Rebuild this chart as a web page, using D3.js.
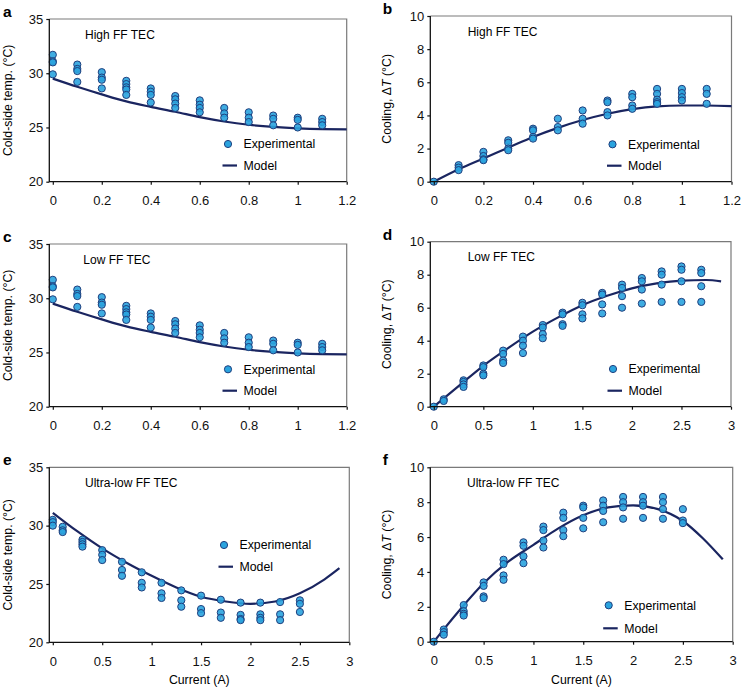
<!DOCTYPE html>
<html>
<head>
<meta charset="utf-8">
<script src="https://cdn.jsdelivr.net/npm/d3@7"></script>
<style>
  body { margin: 0; background: #fff; }
  svg { display: block; font-family: "Liberation Sans", Arial, sans-serif; }
</style>
</head>
<body>
<div id="chart"></div>
<script>
// ---- data ----
const highCurrent = [0, 0.1, 0.2, 0.3, 0.4, 0.5, 0.6, 0.7, 0.8, 0.9, 1.0, 1.1];
const highColdExp = [
  [31.7, 31.1, 31.0, 29.9], [30.8, 30.4, 30.2, 29.2], [30.1, 29.6, 29.4, 28.6],
  [29.3, 29.0, 28.7, 28.5, 28.0], [28.6, 28.3, 28.0, 27.3], [27.9, 27.6, 27.2, 26.8],
  [27.5, 27.1, 26.8, 26.4], [26.8, 26.3, 25.9], [26.4, 25.9, 25.5],
  [26.1, 25.8, 25.2], [25.9, 25.7, 25.0], [25.8, 25.5, 25.2]
];
const highModelI = [0, 0.1, 0.2, 0.3, 0.4, 0.5, 0.6, 0.7, 0.8, 0.9, 1.0, 1.1, 1.2];
const highColdModel = [29.5, 28.75, 28.05, 27.4, 26.9, 26.45, 25.95, 25.55, 25.25, 25.05, 24.92, 24.85, 24.83];

const highCoolExp = [
  [0], [1.0, 0.85, 0.7], [1.8, 1.55, 1.35, 1.3], [2.5, 2.35, 2.0, 1.9],
  [3.2, 3.1, 2.7, 2.6], [3.8, 3.3, 3.1], [4.3, 3.8, 3.5], [4.9, 4.8, 4.2, 4.0],
  [5.3, 5.1, 4.6, 4.4], [5.6, 5.3, 4.95, 4.8, 4.7], [5.6, 5.35, 5.1, 4.9], [5.6, 5.3, 4.7]
];
const highCoolModel = [0, 0.75, 1.4, 2.05, 2.7, 3.25, 3.72, 4.1, 4.38, 4.55, 4.6, 4.6, 4.56];

const lowColdCurrent = [0, 0.1, 0.2, 0.3, 0.4, 0.5, 0.6, 0.7, 0.8, 0.9, 1.0, 1.1];
const lowColdExp = [
  [31.7, 31.1, 31.0, 29.9], [30.8, 30.4, 30.2, 29.2], [30.1, 29.6, 29.4, 28.6],
  [29.3, 29.0, 28.7, 28.5, 28.0], [28.6, 28.3, 28.0, 27.3], [27.9, 27.6, 27.2, 26.8],
  [27.5, 27.1, 26.8, 26.4], [26.8, 26.3, 25.9], [26.4, 25.9, 25.5],
  [26.1, 25.8, 25.2], [25.9, 25.7, 25.0], [25.8, 25.5, 25.2]
];
const lowColdModelI = [0, 0.1, 0.2, 0.3, 0.4, 0.5, 0.6, 0.7, 0.8, 0.9, 1.0, 1.1, 1.2];
const lowColdModel = [29.5, 28.75, 28.05, 27.4, 26.9, 26.45, 25.95, 25.55, 25.25, 25.05, 24.92, 24.85, 24.83];

const wideCurrent = [0, 0.1, 0.3, 0.5, 0.7, 0.9, 1.1, 1.3, 1.5, 1.7, 1.9, 2.1, 2.3, 2.5, 2.7];
const lowCoolExp = [
  [0], [0.45, 0.35], [1.6, 1.5, 1.35, 1.2], [2.5, 2.4, 2.0, 1.9],
  [3.4, 3.2, 2.8, 2.65], [4.25, 4.0, 3.7, 3.25], [4.95, 4.8, 4.4, 4.15],
  [5.7, 5.6, 5.0, 4.9], [6.3, 6.15, 5.6, 5.35], [6.9, 6.8, 6.2, 5.65],
  [7.4, 7.2, 6.7, 6.0], [7.8, 7.6, 7.1, 6.25], [8.2, 8.0, 7.4, 6.35],
  [8.5, 8.3, 7.6, 6.35], [8.3, 8.1, 7.3, 6.35]
];
const wideModelI = [0, 0.25, 0.5, 0.75, 1.0, 1.25, 1.5, 1.75, 2.0, 2.25, 2.5, 2.75, 2.9];
const lowCoolModel = [0, 1.25, 2.48, 3.55, 4.55, 5.4, 6.15, 6.72, 7.17, 7.47, 7.64, 7.68, 7.6];

const ultraCurrent = [0, 0.1, 0.3, 0.5, 0.7, 0.9, 1.1, 1.3, 1.5, 1.7, 1.9, 2.1, 2.3, 2.5];
const ultraColdExp = [
  [30.5, 30.3, 30.0], [29.9, 29.6, 29.45], [28.8, 28.6, 28.4, 28.2],
  [27.9, 27.5, 27.05], [26.9, 26.2, 25.7], [26.0, 25.1, 24.7],
  [25.1, 24.2, 23.8], [24.45, 23.6, 23.05], [24.0, 22.85, 22.5],
  [23.65, 22.55, 22.1], [23.4, 22.35, 22.0, 21.9], [23.4, 22.4, 22.1, 21.9],
  [23.45, 22.4, 21.9], [23.6, 23.3, 22.6]
];
const ultraColdModel = [31.1, 29.5, 28.05, 26.8, 25.7, 24.7, 23.9, 23.5, 23.3, 23.5, 24.2, 25.4, 26.35];
const ultraCoolExp = [
  [0], [0.7, 0.55, 0.4], [2.1, 1.75, 1.6, 1.5], [3.4, 3.2, 2.6, 2.5],
  [4.7, 4.45, 3.8, 3.55], [5.7, 5.5, 4.9, 4.5], [6.6, 6.4, 5.8, 5.4],
  [7.4, 7.1, 6.4, 6.05], [7.8, 7.7, 7.1, 6.5], [8.1, 7.8, 7.5, 6.85],
  [8.3, 8.0, 7.7, 7.05], [8.3, 8.0, 7.8, 7.1], [8.3, 8.0, 7.6, 7.05],
  [7.6, 6.95, 6.8]
];
const ultraModelI = [0, 0.25, 0.5, 0.75, 1.0, 1.25, 1.5, 1.75, 2.0, 2.25, 2.5, 2.7, 2.9];
const ultraCoolModel = [0, 1.75, 3.35, 4.6, 5.55, 6.5, 7.25, 7.7, 7.82, 7.6, 6.92, 5.93, 4.72];

const ticksSmall = [0, 0.2, 0.4, 0.6, 0.8, 1, 1.2];
const ticksWide = [0, 0.5, 1, 1.5, 2, 2.5, 3];
const ticksCold = [20, 25, 30, 35];
const ticksCool = [0, 2, 4, 6, 8, 10];

// ---- layout ----
const panels = [
  { letter: 'a', title: 'High FF TEC', box: [49.3, 19, 346.7, 181.7], xMax: 1.2, xTicks: ticksSmall,
    yDomain: [20, 35], yTicks: ticksCold, cold: true, I: highCurrent, exp: highColdExp,
    mI: highModelI, model: highColdModel, leg: [228, 144, 165.5], tx: 85 },
  { letter: 'b', title: 'High FF TEC', box: [430.3, 16, 731.5, 181.7], xMax: 1.2, xTicks: ticksSmall,
    yDomain: [0, 10], yTicks: ticksCool, cold: false, I: highCurrent, exp: highCoolExp,
    mI: highModelI, model: highCoolModel, leg: [612.5, 144.3, 165.7], tx: 467.7 },
  { letter: 'c', title: 'Low FF TEC', box: [49.3, 244, 346.7, 406.7], xMax: 1.2, xTicks: ticksSmall,
    yDomain: [20, 35], yTicks: ticksCold, cold: true, I: lowColdCurrent, exp: lowColdExp,
    mI: lowColdModelI, model: lowColdModel, leg: [228, 369.3, 390.7], tx: 83.3 },
  { letter: 'd', title: 'Low FF TEC', box: [430.3, 241.7, 731, 406.7], xMax: 3, xTicks: ticksWide,
    yDomain: [0, 10], yTicks: ticksCool, cold: false, I: wideCurrent, exp: lowCoolExp,
    mI: wideModelI, model: lowCoolModel, leg: [613, 369, 390.7], tx: 467.7 },
  { letter: 'e', title: 'Ultra-low FF TEC', box: [49.3, 467.3, 349.3, 642.3], xMax: 3, xTicks: ticksWide,
    yDomain: [20, 35], yTicks: ticksCold, cold: true, I: ultraCurrent, exp: ultraColdExp,
    mI: wideModelI, model: ultraColdModel, leg: [224, 545, 566.7], tx: 85, xLabel: true },
  { letter: 'f', title: 'Ultra-low FF TEC', box: [430.3, 467.3, 732.7, 641.7], xMax: 3, xTicks: ticksWide,
    yDomain: [0, 10], yTicks: ticksCool, cold: false, I: ultraCurrent, exp: ultraCoolExp,
    mI: ultraModelI, model: ultraCoolModel, leg: [608.7, 605.3, 628.3], tx: 467, xLabel: true }
];

const dotFill = '#2aa3de';
const dotStroke = '#1f3f7e';
const lineColor = '#1a2560';

const svg = d3.select('#chart').append('svg')
  .attr('width', 742).attr('height', 690);

panels.forEach((p) => {
  const [left, top, right, bottom] = p.box;
  const g = svg.append('g');

  const x = d3.scaleLinear().domain([0, p.xMax]).range([left + 3.5, right]);
  const y = d3.scaleLinear().domain(p.yDomain).range([bottom, top]);

  // top / right frame (grey)
  g.append('path')
    .attr('d', `M${left},${top}H${right}V${bottom}`)
    .attr('fill', 'none').attr('stroke', '#7a7a7a').attr('stroke-width', 1.2);

  // model curve
  const line = d3.line().x((d) => x(d[0])).y((d) => y(d[1])).curve(d3.curveMonotoneX);
  g.append('path')
    .datum(p.mI.map((v, i) => [v, p.model[i]]))
    .attr('d', line)
    .attr('fill', 'none').attr('stroke', lineColor).attr('stroke-width', 2.2);

  // experimental points
  const pts = [];
  p.I.forEach((cur, i) => p.exp[i].forEach((v) => pts.push([cur, v])));
  g.append('g').selectAll('circle')
    .data(pts)
    .join('circle')
    .attr('cx', (d) => x(d[0]))
    .attr('cy', (d) => y(d[1]))
    .attr('r', 3.6)
    .attr('fill', dotFill)
    .attr('fill-opacity', 0.9)
    .attr('stroke', dotStroke)
    .attr('stroke-width', 1);

  // axes
  const xAxis = g.append('g')
    .attr('transform', `translate(0,${bottom})`)
    .call(d3.axisBottom(x).tickValues(p.xTicks).tickFormat(d3.format('')).tickSize(3).tickPadding(11.5));
  xAxis.select('.domain').remove();
  const yAxis = g.append('g')
    .attr('transform', `translate(${left},0)`)
    .call(d3.axisLeft(y).tickValues(p.yTicks).tickSize(3).tickPadding(3));
  yAxis.select('.domain').remove();
  [xAxis, yAxis].forEach((a) => {
    a.selectAll('text').attr('font-size', 13).attr('font-family', null).attr('fill', '#111');
    a.selectAll('line').attr('stroke', '#111').attr('stroke-width', 1.2);
  });
  g.append('path')
    .attr('d', `M${left},${top}V${bottom}H${right}`)
    .attr('fill', 'none').attr('stroke', '#111').attr('stroke-width', 1.3);

  // panel letter and title
  const col0 = left < 200;
  g.append('text')
    .attr('x', col0 ? 3 : 382.7).attr('y', top - 2)
    .attr('font-size', 15.5).attr('font-weight', 'bold').text(p.letter);
  g.append('text')
    .attr('x', p.tx).attr('y', top + 19.5)
    .attr('font-size', 12).text(p.title);

  // y label
  const ylab = g.append('text')
    .attr('transform', `translate(${col0 ? 11.5 : 391.3},${(top + bottom) / 2}) rotate(-90)`)
    .attr('text-anchor', 'middle').attr('font-size', 12.3);
  if (p.cold) {
    ylab.text('Cold-side temp. (°C)');
  } else {
    ylab.append('tspan').text('Cooling, \u0394');
    ylab.append('tspan').attr('font-style', 'italic').text('T');
    ylab.append('tspan').text(' (°C)');
  }

  if (p.xLabel) {
    g.append('text')
      .attr('x', (left + right) / 2).attr('y', 684)
      .attr('text-anchor', 'middle').attr('font-size', 12.3).text('Current (A)');
  }

  // legend
  const [mx, my, ly] = p.leg;
  g.append('circle').attr('cx', mx).attr('cy', my).attr('r', 3.6)
    .attr('fill', dotFill).attr('stroke', dotStroke).attr('stroke-width', 1);
  g.append('text').attr('x', mx + 15.5).attr('y', my + 4.3).attr('font-size', 12.3).text('Experimental');
  g.append('line').attr('x1', mx - 5.5).attr('x2', mx + 9).attr('y1', ly).attr('y2', ly)
    .attr('stroke', lineColor).attr('stroke-width', 2.2);
  g.append('text').attr('x', mx + 15.5).attr('y', ly + 4.3).attr('font-size', 12.3).text('Model');
});
</script>
</body>
</html>
